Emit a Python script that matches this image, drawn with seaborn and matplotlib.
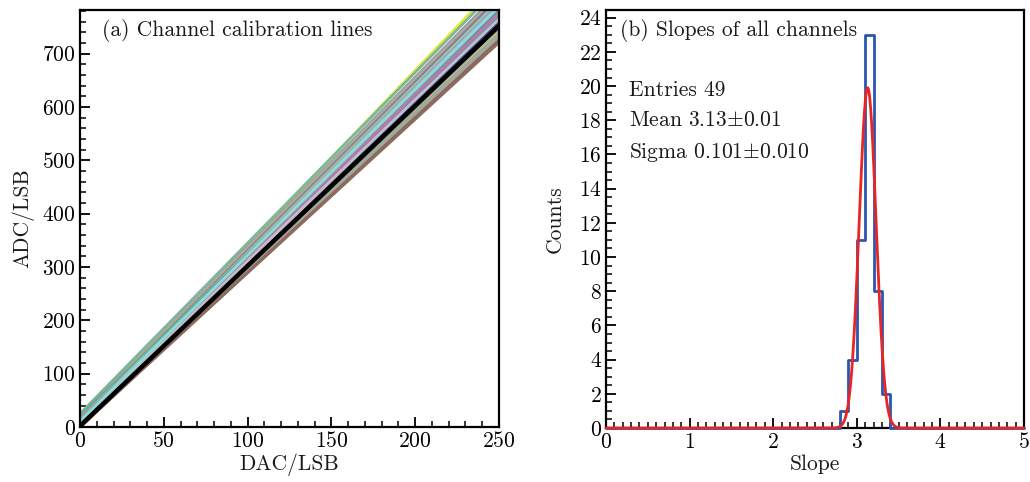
import numpy as np
import pandas as pd
import matplotlib
matplotlib.use("Agg")
import matplotlib.pyplot as plt
from matplotlib.ticker import MultipleLocator
import seaborn as sns

# ---------------- data ----------------
# (a) calibration lines: ADC = slope * DAC + offset
line_colors = [
    "#e8e838", "#7ab89c", "#9c9c9c", "#bfb2a2", "#8a9292", "#a05aa8", "#8cd49c",
    "#5cd4dc", "#a8a8a8", "#d88cd0", "#7090b8", "#c8b8a8", "#3c5cbc", "#8c68a4",
    "#68cccc", "#989898", "#74c44c", "#6ca894", "#3454a8", "#c89cc0", "#d8d868",
    "#b0b0b0", "#4c6cc4", "#a08474", "#54b8c4", "#a864b0", "#7cc85c", "#909090",
    "#2448a8", "#c0b4a4", "#6488ac", "#e09cd8", "#2c4490", "#365cc4", "#a4a4a4",
    "#dc2c2c", "#6cc044", "#c4b4a0", "#b8b0a8", "#84c854", "#74b09c", "#b8a898",
    "#a0a0a0", "#84665a", "#8c6c5c", "#c0c0c0", "#b07ca8", "#84e0e0",
]
line_offsets = [
    13, 25, 20, 19, 16, 10, 12, 8, 14, 9, 6, 17, 5, 11, 7, 13, 4, 21, 3, 9, 15,
    8, 4, 6, 5, 10, 3, 7, 2, 12, 4, 6, 1, 3, 5, -1, 2, 6, 4, 1, 7, 3, 2, 0, 1,
    10, 14, 11,
]
line_slopes = [
    3.28, 3.20, 3.18, 3.16, 3.16, 3.17, 3.15, 3.15, 3.12, 3.13, 3.13, 3.08, 3.12,
    3.09, 3.10, 3.07, 3.10, 3.03, 3.10, 3.07, 3.04, 3.06, 3.07, 3.06, 3.06, 3.03,
    3.05, 3.03, 3.04, 3.00, 3.03, 3.02, 3.03, 2.99, 2.97, 2.99, 2.97, 2.95, 2.94,
    2.94, 2.91, 2.92, 2.91, 2.90, 2.88, 3.02, 3.05, 3.11,
]
mean_slope = 3.00
mean_offset = 2
dac_range = [0, 250]

# (b) slope histogram
slope_bin_left = [2.8, 2.9, 3.0, 3.1, 3.2, 3.3]
slope_counts = [1, 4, 11, 23, 8, 2]
fit_amplitude = 19.9
fit_mean = 3.13
fit_sigma = 0.101
stats_lines = ["Entries 49", r"Mean 3.13$\pm$0.01", r"Sigma 0.101$\pm$0.010"]

FS = 15.5

# ---------------- style ----------------
sns.set_theme(style="ticks")
plt.rcParams.update({
    "font.family": "serif",
    "font.serif": ["cmr10"],
    "mathtext.fontset": "cm",
    "axes.formatter.use_mathtext": True,
    "font.size": FS,
    "axes.linewidth": 1.5,
    "axes.edgecolor": "black",
    "xtick.direction": "in",
    "ytick.direction": "in",
    "xtick.color": "black",
    "ytick.color": "black",
    "text.color": "#1a1a1a",
    "axes.labelcolor": "#1a1a1a",
})

fig = plt.figure(figsize=(10.30, 4.82), dpi=100)
axA = fig.add_axes([80 / 1030, 55 / 482, 419 / 1030, 417 / 482])
axB = fig.add_axes([606 / 1030, 54 / 482, 418 / 1030, 418 / 482])

# ---------------- panel (a) ----------------
rows = []
for i, (b, s) in enumerate(zip(line_offsets, line_slopes)):
    for d in dac_range:
        rows.append({"channel": i, "dac": d, "adc": s * d + b})
df_lines = pd.DataFrame(rows)
sns.lineplot(data=df_lines, x="dac", y="adc", hue="channel",
             hue_order=list(range(len(line_slopes))), palette=line_colors,
             legend=False, linewidth=2.0, ax=axA)
mean_df = pd.DataFrame({"dac": dac_range,
                        "adc": [mean_slope * d + mean_offset for d in dac_range]})
sns.lineplot(data=mean_df, x="dac", y="adc", color="black", linewidth=3.2, ax=axA)

axA.set_xlim(0, 250)
axA.set_ylim(0, 782)
axA.xaxis.set_major_locator(MultipleLocator(50))
axA.xaxis.set_minor_locator(MultipleLocator(10))
axA.yaxis.set_major_locator(MultipleLocator(100))
axA.yaxis.set_minor_locator(MultipleLocator(20))
axA.tick_params(which="major", length=7, width=1.3, labelsize=FS, pad=3)
axA.tick_params(which="minor", length=4.5, width=1.1)
axA.set_xlabel("DAC/LSB", fontsize=FS, labelpad=2)
axA.set_ylabel("ADC/LSB", fontsize=FS, labelpad=6)
axA.text(0.052, 0.952, "(a) Channel calibration lines", transform=axA.transAxes,
         va="center", ha="left", fontsize=FS)

# ---------------- panel (b) ----------------
hist_df = pd.DataFrame({"slope": [x + 0.05 for x in slope_bin_left],
                        "count": slope_counts})
sns.histplot(data=hist_df, x="slope", weights="count", binwidth=0.1,
             binrange=(0, 5), element="step",
             fill=False, color="#2a56b0", linewidth=2.0, ax=axB)
grid = np.linspace(0, 5, 1501)
gauss = fit_amplitude * np.exp(-0.5 * ((grid - fit_mean) / fit_sigma) ** 2)
sns.lineplot(x=grid, y=gauss, color="#e82424", linewidth=2.0, ax=axB)
for ln in axB.lines:
    ln.set_clip_on(False)
    ln.set_zorder(5)

axB.set_xlim(0, 5)
axB.set_ylim(0, 24.45)
axB.xaxis.set_major_locator(MultipleLocator(1))
axB.xaxis.set_minor_locator(MultipleLocator(0.1))
axB.yaxis.set_major_locator(MultipleLocator(2))
axB.yaxis.set_minor_locator(MultipleLocator(0.5))
axB.tick_params(which="major", length=7, width=1.3, labelsize=FS, pad=3)
axB.tick_params(which="minor", length=4.5, width=1.1)
axB.set_xlabel("Slope", fontsize=FS, labelpad=2)
axB.set_ylabel("Counts", fontsize=FS, labelpad=10)
axB.text(0.033, 0.952, "(b) Slopes of all channels", transform=axB.transAxes,
         va="center", ha="left", fontsize=FS)
for txt, yy in zip(stats_lines, [0.809, 0.737, 0.660]):
    axB.text(0.055, yy, txt, transform=axB.transAxes, va="center", ha="left",
             fontsize=FS)

for ax in (axA, axB):
    for sp in ax.spines.values():
        sp.set_visible(True)
        sp.set_linewidth(1.6)

fig.savefig("out.png", dpi=100)
